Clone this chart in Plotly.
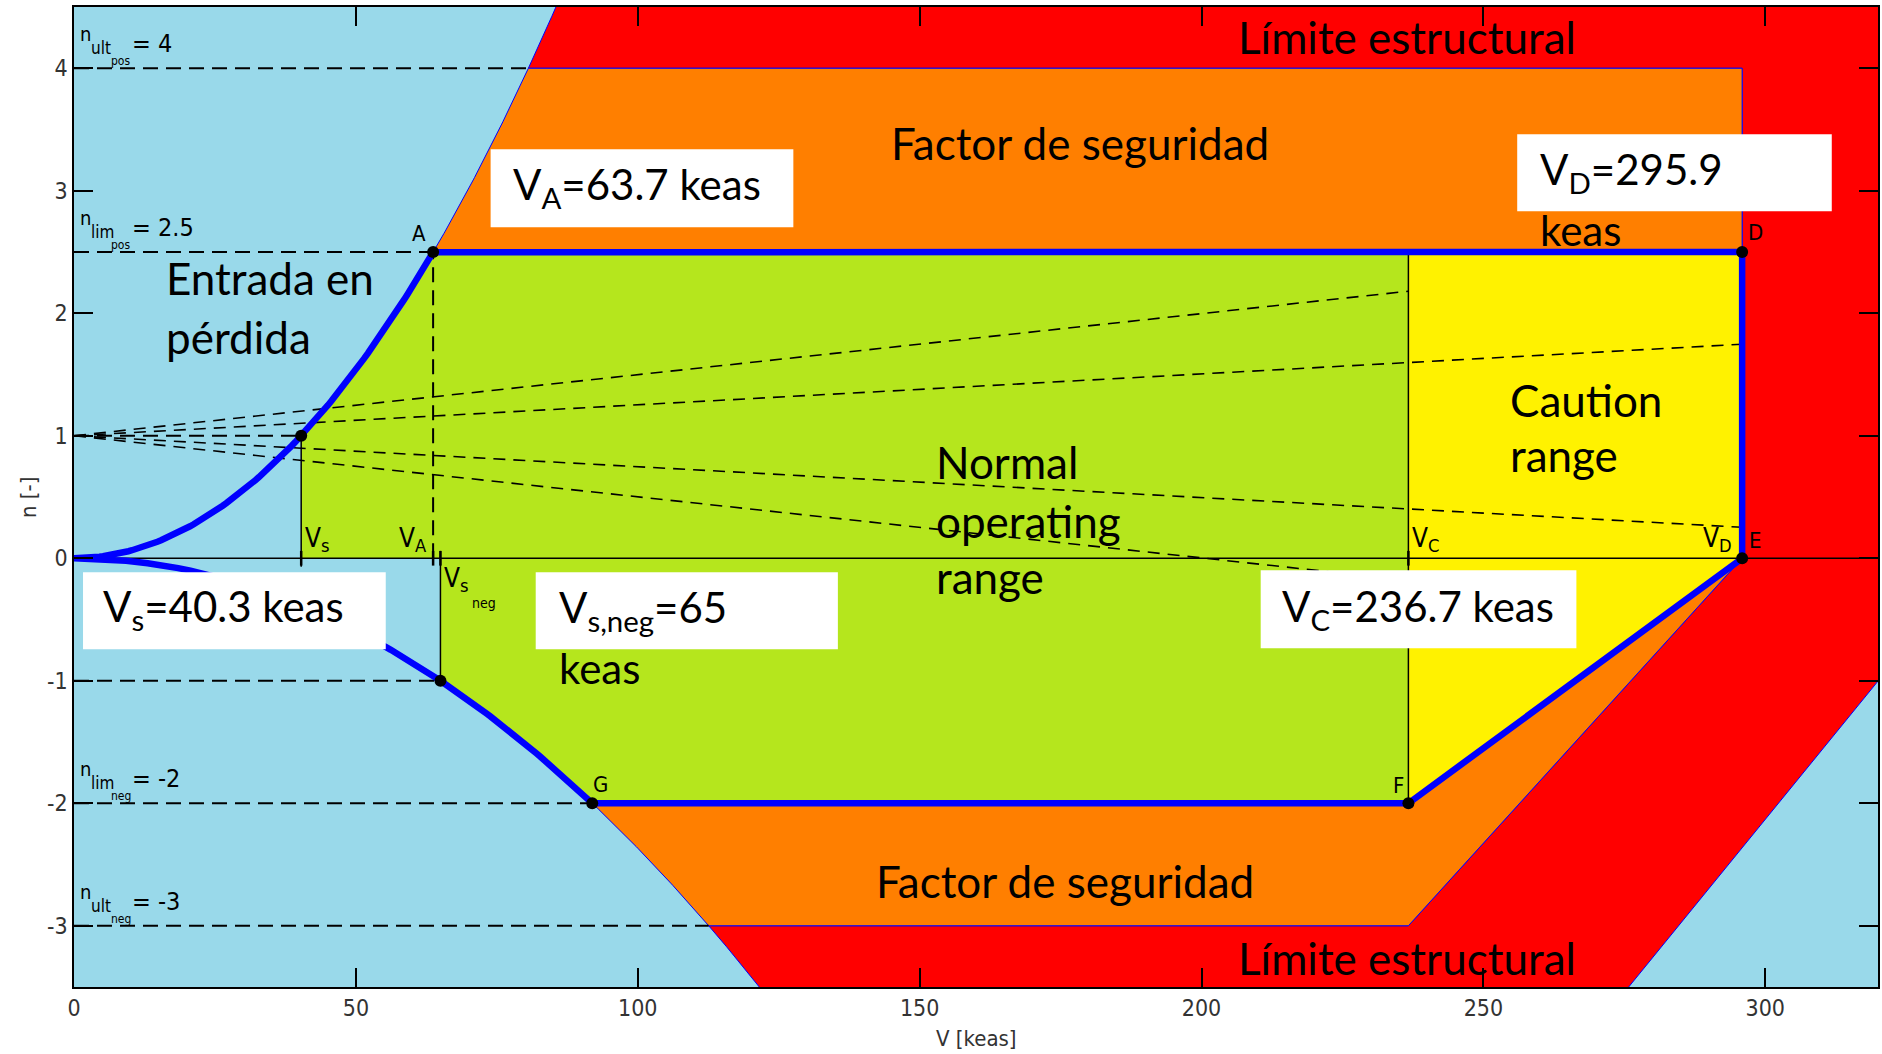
import numpy as np
import plotly.graph_objects as go

# Characteristic speeds (keas)
V_S = 40.3        # positive stall speed (n = 1)
V_A = 63.7        # manoeuvring speed
V_S_NEG = 65.0    # negative stall speed (n = -1)
V_C = 236.7       # design cruise speed
V_D = 295.9       # design dive speed

# Load factors
N_LIM_POS = 2.5
N_ULT_POS = 4.0
N_LIM_NEG = -2.0
N_ULT_NEG = -3.0

# Gust-line load factor increments: at V_C and at V_D
GUST_DN_VC = 1.18
GUST_DN_VD = 0.747

# Outer edge of the structural-limit band on the right, as (V, n) pairs
STRUCT_EDGE_V = [274.0, 322.0]
STRUCT_EDGE_N = [-3.6, -0.89]

# Axis ticks
X_TICKS = [0, 50, 100, 150, 200, 250, 300]
Y_TICKS = [-3, -2, -1, 0, 1, 2, 3, 4]
Y_TICK_TEXT = ["-3", "-2", "-1", "0", "1", "2", "3", "4"]

X_MAX = 320
Y_MIN, Y_MAX = -3.5, 4.5

SKY = "#99D9EA"
GREEN = "#B5E61D"
YELLOW = "#FFF200"
ORANGE = "#FF7F00"
RED = "#FF0000"
BLUE = "#0000FF"

MAT_FONT = "Liberation Sans Narrow, Arial Narrow, DejaVu Sans Condensed, sans-serif"
BIG_FONT = "Lato, Open Sans, sans-serif"


def v_pos(n):
    """Speed on the positive stall curve n = (V/V_S)^2."""
    return V_S * np.sqrt(n)


def v_neg(n):
    """Speed on the negative stall curve n = -(V/V_S_NEG)^2."""
    return V_S_NEG * np.sqrt(-n)


def pos_curve(n0, n1, k=80):
    n = np.linspace(n0, n1, k)
    return list(v_pos(n)), list(n)


def neg_curve(n0, n1, k=80):
    n = np.linspace(n0, n1, k)
    return list(v_neg(n)), list(n)


V_G = float(v_neg(N_LIM_NEG))
V_ULT_POS = float(v_pos(N_ULT_POS))
V_ULT_NEG = float(v_neg(N_ULT_NEG))

fig = go.Figure()


def poly(xs, ys, color, edge=0):
    fig.add_trace(go.Scatter(
        x=xs, y=ys, mode="lines", fill="toself", fillcolor=color,
        line=dict(color=BLUE, width=edge) if edge else dict(width=0, color=color),
        hoverinfo="skip", showlegend=False))


def line(xs, ys, color="black", width=1.5, dash="solid"):
    fig.add_trace(go.Scatter(
        x=xs, y=ys, mode="lines", line=dict(color=color, width=width, dash=dash),
        hoverinfo="skip", showlegend=False))


# --- structural limit band (red) ---
top_v, top_n = pos_curve(N_ULT_POS, Y_MAX + 0.2)
bot_v, bot_n = neg_curve(Y_MIN - 0.1, N_ULT_NEG)
red_x = top_v + [STRUCT_EDGE_V[1] + 2, STRUCT_EDGE_V[1] + 2, STRUCT_EDGE_V[1], STRUCT_EDGE_V[0]] \
    + bot_v + [V_C, V_D, V_D, V_ULT_POS]
red_y = top_n + [Y_MAX + 0.2, STRUCT_EDGE_N[1], STRUCT_EDGE_N[1], STRUCT_EDGE_N[0]] \
    + bot_n + [N_ULT_NEG, 0, N_ULT_POS, N_ULT_POS]
poly(red_x, red_y, RED, edge=1)

# --- safety-factor bands (orange) ---
cv, cn = pos_curve(N_LIM_POS, N_ULT_POS)
poly([V_A] + cv + [V_D, V_D], [N_LIM_POS] + cn + [N_ULT_POS, N_LIM_POS], ORANGE, edge=1)
cv, cn = neg_curve(N_ULT_NEG, N_LIM_NEG)
poly([V_G, V_C, V_D, V_C] + cv, [N_LIM_NEG, N_LIM_NEG, 0, N_ULT_NEG] + cn, ORANGE, edge=1)

# --- normal operating range (green) ---
pv = list(np.linspace(V_S, V_A, 80))
pn = [(v / V_S) ** 2 for v in pv]
nv, nn = neg_curve(N_LIM_NEG, -1.0)
poly([V_S, V_S] + pv + [V_C, V_C] + nv + [V_S_NEG],
     [0, 1] + pn + [N_LIM_POS, N_LIM_NEG] + nn + [0], GREEN)

# --- caution range (yellow) ---
poly([V_C, V_D, V_D, V_C], [N_LIM_POS, N_LIM_POS, 0, N_LIM_NEG], YELLOW)

# n = 0 axis line
line([0, X_MAX + 5], [0, 0], width=1.5)

# reference dashed lines
ref_levels = [N_ULT_POS, N_LIM_POS, 1.0, -1.0, N_LIM_NEG, N_ULT_NEG]
ref_ends = [V_ULT_POS, V_A, V_S, V_S_NEG, V_G, V_ULT_NEG]
for lvl, vend in zip(ref_levels, ref_ends):
    line([0, vend], [lvl, lvl], width=2, dash="15px,8px")
line([V_A, V_A], [0, N_LIM_POS], width=2, dash="15px,8px")

# gust lines
for vend, dn in [(V_C, GUST_DN_VC), (V_D, GUST_DN_VD)]:
    line([0, vend], [1, 1 + dn], width=1.6, dash="12px,8px")
    line([0, vend], [1, 1 - dn], width=1.6, dash="12px,8px")

# speed markers
line([V_S, V_S], [-0.07, 1], width=1.5)
line([V_S_NEG, V_S_NEG], [0.06, -1], width=1.5)
line([V_C, V_C], [N_LIM_POS, N_LIM_NEG], width=1.5)
for v in [V_S, V_A, V_S_NEG, V_C]:
    line([v, v], [-0.06, 0.06], width=2.5)

# flight envelope
env_v = list(np.linspace(0, V_A, 100))
env_n = [(v / V_S) ** 2 for v in env_v]
ev, en = neg_curve(N_LIM_NEG, 0.0, 100)
env_v += [V_D, V_D, V_C] + ev
env_n += [N_LIM_POS, 0, N_LIM_NEG] + en
line(env_v, env_n, color=BLUE, width=6.5)

pt_v = [V_S, V_A, V_D, V_D, V_C, V_G, V_S_NEG]
pt_n = [1, N_LIM_POS, N_LIM_POS, 0, N_LIM_NEG, N_LIM_NEG, -1]
fig.add_trace(go.Scatter(x=pt_v, y=pt_n, mode="markers",
                         marker=dict(color="black", size=12),
                         hoverinfo="skip", showlegend=False))

ann = []


def txt(text, x, y, size, family=MAT_FONT, xanchor="left", yanchor="middle",
        xshift=0, yshift=0, xref="x", yref="y", angle=0, color="black"):
    ann.append(dict(text=text, x=x, y=y, xref=xref, yref=yref, showarrow=False,
                    xanchor=xanchor, yanchor=yanchor, xshift=xshift, yshift=yshift,
                    textangle=angle, font=dict(family=family, size=size, color=color)))


# point letters
txt("A", V_A, N_LIM_POS, 22, xanchor="center", xshift=-14, yshift=19)
txt("D", V_D, N_LIM_POS, 22, xanchor="center", xshift=13, yshift=20)
txt("E", V_D, 0, 22, xanchor="center", xshift=13, yshift=18)
txt("F", V_C, N_LIM_NEG, 22, xanchor="center", xshift=-10, yshift=18)
txt("G", V_G, N_LIM_NEG, 22, xanchor="center", xshift=8, yshift=19)

# speed labels along n = 0
txt("V<sub>s</sub>", V_S, 0, 26, xanchor="left", yanchor="bottom", xshift=2, yshift=0)
txt("V<sub>A</sub>", V_A, 0, 26, xanchor="right", yanchor="bottom", xshift=-4, yshift=0)
txt("V<sub>s</sub>", V_S_NEG, 0, 26, xanchor="left", yanchor="top", xshift=2, yshift=-3)
txt("neg", V_S_NEG, 0, 14, xanchor="left", yanchor="top", xshift=30, yshift=-35)
txt("V<sub>C</sub>", V_C, 0, 26, xanchor="left", yanchor="bottom", xshift=2, yshift=0)
txt("V<sub>D</sub>", V_D, 0, 26, xanchor="right", yanchor="bottom", xshift=-8, yshift=0)

# load-factor labels on the left
lvl_labels = [(N_ULT_POS, "ult", "pos", "= 4"), (N_LIM_POS, "lim", "pos", "= 2.5"),
              (N_LIM_NEG, "lim", "neg", "= -2"), (N_ULT_NEG, "ult", "neg", "= -3")]
for lvl, s1, s2, val in lvl_labels:
    txt("n", 0, lvl, 20, yanchor="bottom", xshift=4, yshift=20)
    txt(s1, 0, lvl, 17, yanchor="bottom", xshift=15, yshift=8)
    txt(s2, 0, lvl, 12, yanchor="bottom", xshift=35, yshift=-2)
    txt(val, 0, lvl, 25, yanchor="bottom", xshift=56, yshift=8)

# region captions
CAP = 44
txt("Límite estructural", 236.4, 4.253, CAP, BIG_FONT, xanchor="center")
txt("Factor de seguridad", 178.4, 3.388, CAP, BIG_FONT, xanchor="center")
txt("Factor de seguridad", 175.8, -2.637, CAP, BIG_FONT, xanchor="center")
txt("Límite estructural", 236.4, -3.265, CAP, BIG_FONT, xanchor="center")
txt("Entrada en", 15.9, 2.286, CAP, BIG_FONT)
txt("pérdida", 15.9, 1.804, CAP, BIG_FONT)
txt("Normal", 152.6, 0.784, CAP, BIG_FONT)
txt("operating", 152.6, 0.302, CAP, BIG_FONT)
txt("range", 152.6, -0.155, CAP, BIG_FONT)
txt("Caution", 254.3, 1.29, CAP, BIG_FONT)
txt("range", 254.3, 0.841, CAP, BIG_FONT)

# value boxes
shapes = []
boxes = [(73.9, 127.6, 2.702, 3.339), (256.0, 311.8, 2.833, 3.461),
         (1.6, 55.3, -0.743, -0.114), (81.9, 135.5, -0.743, -0.114),
         (210.5, 266.5, -0.735, -0.098)]
for x0, x1, y0, y1 in boxes:
    shapes.append(dict(type="rect", xref="x", yref="y", x0=x0, x1=x1, y0=y0, y1=y1,
                       fillcolor="white", line=dict(width=0), layer="above"))

BOX = 42
txt(f"V<sub>A</sub>={V_A} keas", 77.5, 3.03, BOX, BIG_FONT)
txt(f"V<sub>D</sub>={V_D}", 259.6, 3.15, BOX, BIG_FONT)
txt("keas", 259.6, 2.678, BOX, BIG_FONT)
txt(f"V<sub>s</sub>={V_S} keas", 4.78, -0.415, BOX, BIG_FONT)
txt(f"V<sub>s,neg</sub>={V_S_NEG:g}", 85.6, -0.42, BOX, BIG_FONT)
txt("keas", 85.6, -0.898, BOX, BIG_FONT)
txt(f"V<sub>C</sub>={V_C} keas", 214.0, -0.415, BOX, BIG_FONT)

# axis titles
txt("V [keas]", 0.5, -0.053, 22, xref="paper", yref="paper", xanchor="center", color="#333")
txt("n [-]", -0.0255, 0.5, 22, xref="paper", yref="paper", xanchor="center", angle=-90,
    color="#333")

axis_common = dict(showgrid=False, zeroline=False, showline=True, linecolor="black",
                   linewidth=1.5, mirror="ticks", ticks="inside", ticklen=19,
                   tickwidth=1.5, tickcolor="black",
                   tickfont=dict(family=MAT_FONT, size=23, color="#333"))

fig.update_layout(
    width=1882, height=1054,
    margin=dict(l=74, r=2, t=7, b=67),
    paper_bgcolor="white", plot_bgcolor=SKY,
    showlegend=False,
    xaxis=dict(range=[0, X_MAX], tickvals=X_TICKS, **axis_common),
    yaxis=dict(range=[Y_MIN, Y_MAX], tickvals=Y_TICKS, ticktext=Y_TICK_TEXT, **axis_common),
    annotations=ann, shapes=shapes,
)

fig.write_html("out.html")
